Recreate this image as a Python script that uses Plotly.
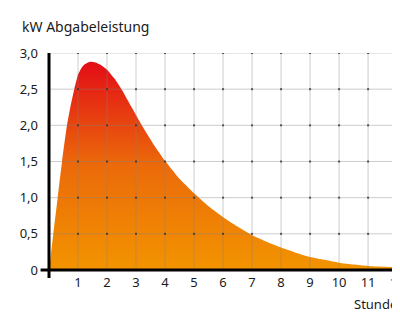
import plotly.graph_objects as go

# Data
hours = [0, 0.15, 0.3, 0.45, 0.62, 0.75, 0.87, 1.0, 1.1, 1.22, 1.41, 1.6, 1.76, 2.0,
         2.25, 2.5, 2.85, 3.2, 3.6, 4.0, 4.5, 5.0, 5.5, 6.0, 6.5, 7.0, 7.5, 8.0,
         8.5, 9.0, 9.5, 10.0, 10.5, 11.0, 11.5, 12.0, 12.1]
power_kw = [0, 0.5, 1.0, 1.5, 2.0, 2.28, 2.5, 2.7, 2.78, 2.84, 2.88, 2.87, 2.84, 2.77,
            2.65, 2.5, 2.25, 2.0, 1.74, 1.51, 1.26, 1.06, 0.88, 0.73, 0.6, 0.48, 0.39, 0.31,
            0.24, 0.18, 0.14, 0.1, 0.075, 0.055, 0.045, 0.04, 0.038]

x_ticks = list(range(1, 13))
x_tick_labels = [str(v) for v in x_ticks]
y_ticks = [0, 0.5, 1.0, 1.5, 2.0, 2.5, 3.0]
y_tick_labels = ["0", "0,5", "1,0", "1,5", "2,0", "2,5", "3,0"]

FONT = "Noto Sans"
TXT = "#1a1a1a"

fig = go.Figure()

fig.add_trace(go.Scatter(
    x=hours, y=power_kw, mode="lines", fill="tozeroy",
    line=dict(width=0, color="rgba(0,0,0,0)", shape="spline", smoothing=0.4),
    fillgradient=dict(type="vertical",
                      colorscale=[[0, "#f39400"], [0.5, "#eb6a0a"], [1, "#e30b17"]],
                      start=0, stop=2.9),
    hoverinfo="skip", showlegend=False,
))

# grid lines drawn above the fill (semi transparent)
gx, gy = [], []
for xv in x_ticks:
    gx += [xv, xv, None]
    gy += [0, 3.0, None]
for yv in y_ticks[1:]:
    gx += [0, 12.1, None]
    gy += [yv, yv, None]
fig.add_trace(go.Scatter(x=gx, y=gy, mode="lines",
                         line=dict(color="rgba(130,130,130,0.4)", width=1),
                         hoverinfo="skip", showlegend=False))

# dots at grid intersections
dx, dy = [], []
for xv in x_ticks:
    for yv in y_ticks[1:]:
        dx.append(xv)
        dy.append(yv)
fig.add_trace(go.Scatter(x=dx, y=dy, mode="markers",
                         marker=dict(symbol="square", size=2, color="rgba(50,40,30,0.75)",
                                     line=dict(width=0)),
                         hoverinfo="skip", showlegend=False))

# page has an 8px body margin, so the figure is shifted by 8px; compensate
fig.update_layout(
    width=392, height=304,
    margin=dict(l=41, r=0, t=45, b=42, autoexpand=False),
    paper_bgcolor="white", plot_bgcolor="white",
    font=dict(family=FONT, color=TXT, size=13),
    xaxis=dict(range=[0, 12.1], tickvals=x_ticks, ticktext=x_tick_labels,
               showgrid=False, zeroline=False, showline=False, automargin=False,
               ticks="", ticklabeloverflow="allow",
               tickfont=dict(size=13, family=FONT, color=TXT), ticklabelstandoff=3,
               fixedrange=True),
    yaxis=dict(range=[0, 3.0], tickvals=y_ticks, ticktext=y_tick_labels,
               showgrid=False, zeroline=False, showline=False, automargin=False,
               ticks="", tickfont=dict(size=13, family=FONT, color=TXT),
               ticklabelstandoff=10, fixedrange=True),
    shapes=[
        dict(type="line", xref="paper", yref="paper", x0=-0.024, x1=1.0, y0=0, y1=0,
             line=dict(color="black", width=3), layer="above"),
        dict(type="line", xref="paper", yref="paper", x0=0, x1=0, y0=-0.037, y1=1.0,
             line=dict(color="black", width=3), layer="above"),
    ],
    annotations=[
        dict(text="kW Abgabeleistung", xref="paper", yref="paper",
             x=-0.083, y=1.12, xanchor="left", yanchor="middle", showarrow=False,
             font=dict(size=14, family=FONT, color=TXT)),
        dict(text="Stunden", xref="paper", yref="paper",
             x=0.863, y=-0.157, xanchor="left", yanchor="middle", showarrow=False,
             font=dict(size=13, family=FONT, color=TXT)),
    ],
)

fig.write_html("out.html")
